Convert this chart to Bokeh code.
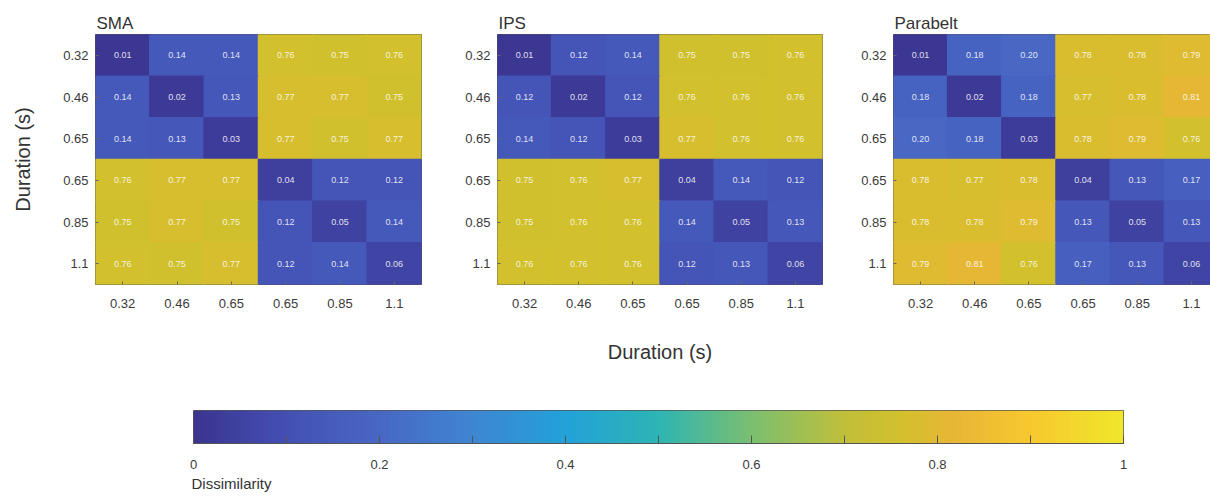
import numpy as np
from bokeh.plotting import figure
from bokeh.models import (ColumnDataSource, Range1d, FixedTicker, LinearColorMapper)
from bokeh.layouts import row, column
from bokeh.transform import linear_cmap
from bokeh.embed import file_html
from bokeh.resources import INLINE

# ---------------- data ----------------
durations = ["0.32", "0.46", "0.65", "0.65", "0.85", "1.1"]

sma = [
    [0.01, 0.14, 0.14, 0.76, 0.75, 0.76],
    [0.14, 0.02, 0.13, 0.77, 0.77, 0.75],
    [0.14, 0.13, 0.03, 0.77, 0.75, 0.77],
    [0.76, 0.77, 0.77, 0.04, 0.12, 0.12],
    [0.75, 0.77, 0.75, 0.12, 0.05, 0.14],
    [0.76, 0.75, 0.77, 0.12, 0.14, 0.06],
]
ips = [
    [0.01, 0.12, 0.14, 0.75, 0.75, 0.76],
    [0.12, 0.02, 0.12, 0.76, 0.76, 0.76],
    [0.14, 0.12, 0.03, 0.77, 0.76, 0.76],
    [0.75, 0.76, 0.77, 0.04, 0.14, 0.12],
    [0.75, 0.76, 0.76, 0.14, 0.05, 0.13],
    [0.76, 0.76, 0.76, 0.12, 0.13, 0.06],
]
parabelt = [
    [0.01, 0.18, 0.20, 0.78, 0.78, 0.79],
    [0.18, 0.02, 0.18, 0.77, 0.78, 0.81],
    [0.20, 0.18, 0.03, 0.78, 0.79, 0.76],
    [0.78, 0.77, 0.78, 0.04, 0.13, 0.17],
    [0.78, 0.78, 0.79, 0.13, 0.05, 0.13],
    [0.79, 0.81, 0.76, 0.17, 0.13, 0.06],
]
panel_titles = ["SMA", "IPS", "Parabelt"]
cbar_ticks = [0, 0.1, 0.2, 0.3, 0.4, 0.5, 0.6, 0.7, 0.8, 0.9, 1.0]
cbar_labels = ["0", "", "0.2", "", "0.4", "", "0.6", "", "0.8", "", "1"]

# ---------------- colormap (parula-like, as seen in the picture) ----------------
anchor_pos = [0.0, 0.1, 0.2, 0.3, 0.4, 0.5, 0.6, 0.7, 0.76, 0.82, 0.9, 1.0]
anchor_col = ["#3b3590", "#4450b4", "#4868c4", "#3e86d2", "#22a2d8", "#2db5b4",
              "#7abf70", "#c0bf3a", "#d2c02c", "#e8b636", "#f7c82e", "#f0e62a"]


def hex2rgb(h):
    h = h.lstrip("#")
    return [int(h[i:i + 2], 16) for i in (0, 2, 4)]


anc = np.array([hex2rgb(h) for h in anchor_col], dtype=float)
ts = np.linspace(0, 1, 256)
palette = []
for t in ts:
    rgb = [np.interp(t, anchor_pos, anc[:, k]) for k in range(3)]
    palette.append("#%02x%02x%02x" % tuple(int(round(c)) for c in rgb))

mapper = LinearColorMapper(palette=palette, low=0, high=1)

FONT = "Liberation Sans"
TXT = "#3a3a3a"


def heat(mat, title, left, frame_w, right, xend, ylab=False, xlab=False):
    xs, ys, vs, ts_ = [], [], [], []
    for i, r in enumerate(mat):
        for j, v in enumerate(r):
            xs.append(j + 0.5)
            ys.append(i + 0.5)
            vs.append(v)
            ts_.append("%.2f" % v)
    src = ColumnDataSource(dict(x=xs, y=ys, v=vs, t=ts_))
    p = figure(frame_width=frame_w, frame_height=250, output_backend="svg",
               toolbar_location=None, x_range=Range1d(0, xend),
               y_range=Range1d(6, 0), min_border_left=left,
               min_border_right=right, min_border_top=34, min_border_bottom=96,
               title=title)
    cmap = linear_cmap("v", palette, 0, 1)
    p.rect("x", "y", width=1, height=1, source=src, fill_color=cmap,
           line_color=cmap, line_width=1.5)
    p.text("x", "y", text="t", source=src, text_align="center",
           text_baseline="middle", text_font_size="9px", text_color="white",
           text_alpha=0.85, text_font={"value": FONT})
    p.title.text_font = FONT
    p.title.text_font_size = "17px"
    p.title.text_font_style = "normal"
    p.title.text_color = "#333333"
    p.title.align = "left"
    p.title.offset = 1
    p.title.standoff = 4
    p.grid.visible = False
    p.outline_line_color = "#555555"
    p.outline_line_width = 1
    p.background_fill_color = "white"
    p.border_fill_color = "white"
    ticks = [0.5, 1.5, 2.5, 3.5, 4.5, 5.5]
    ov = {t: durations[k] for k, t in enumerate(ticks)}
    for ax in (p.xaxis[0], p.yaxis[0]):
        ax.ticker = FixedTicker(ticks=ticks)
        ax.major_label_overrides = ov
        ax.major_label_text_font = FONT
        ax.major_label_text_font_size = "13px"
        ax.major_label_text_color = TXT
        ax.minor_tick_line_color = None
        ax.major_tick_in = 3
        ax.major_tick_out = 0
        ax.major_tick_line_color = "#666666"
        ax.axis_line_color = None
        ax.axis_label_text_font = FONT
        ax.axis_label_text_font_size = "20px"
        ax.axis_label_text_font_style = "normal"
        ax.axis_label_text_color = "#333333"
    p.xaxis[0].major_label_standoff = 14
    p.yaxis[0].major_label_standoff = 7
    if ylab:
        p.yaxis[0].axis_label = "Duration (s)"
        p.yaxis[0].axis_label_standoff = 26
    if xlab:
        p.xaxis[0].axis_label = "Duration (s)"
        p.xaxis[0].axis_label_standoff = 30
    return p


p1 = heat(sma, panel_titles[0], 95, 326, 19, 6, ylab=True)
p2 = heat(ips, panel_titles[1], 57, 325, 14, 6, xlab=True)
p3 = heat(parabelt, panel_titles[2], 57, 317, 0, 317 / (325 / 6))

# ---------------- colour bar ----------------
cb = figure(frame_width=930, frame_height=33, output_backend="svg",
            toolbar_location=None, x_range=Range1d(0, 1), y_range=Range1d(0, 1),
            min_border_left=193, min_border_right=87, min_border_top=30,
            min_border_bottom=50, title="Dissimilarity", title_location="below")
grad = np.array([ts])
cb.image(image=[grad], x=0, y=0, dw=1, dh=1, color_mapper=mapper)
cb.yaxis.visible = False
cb.grid.visible = False
cb.outline_line_color = "#555555"
ax = cb.xaxis[0]
ax.ticker = FixedTicker(ticks=cbar_ticks)
ax.major_label_overrides = {t: l for t, l in zip(cbar_ticks, cbar_labels)}
ax.major_label_text_font = FONT
ax.major_label_text_font_size = "13px"
ax.major_label_text_color = TXT
ax.major_tick_in = 8
ax.major_tick_out = 0
ax.major_tick_line_color = "#555555"
ax.minor_tick_line_color = None
ax.axis_line_color = "#555555"
ax.major_label_standoff = 16
cb.title.text_font = FONT
cb.title.text_font_size = "15px"
cb.title.text_font_style = "normal"
cb.title.text_color = "#333333"
cb.title.align = "left"
cb.title.offset = -2
cb.title.standoff = 2

layout = column(row(p1, p2, p3), cb)
open("out.html", "w").write(file_html(layout, INLINE))
